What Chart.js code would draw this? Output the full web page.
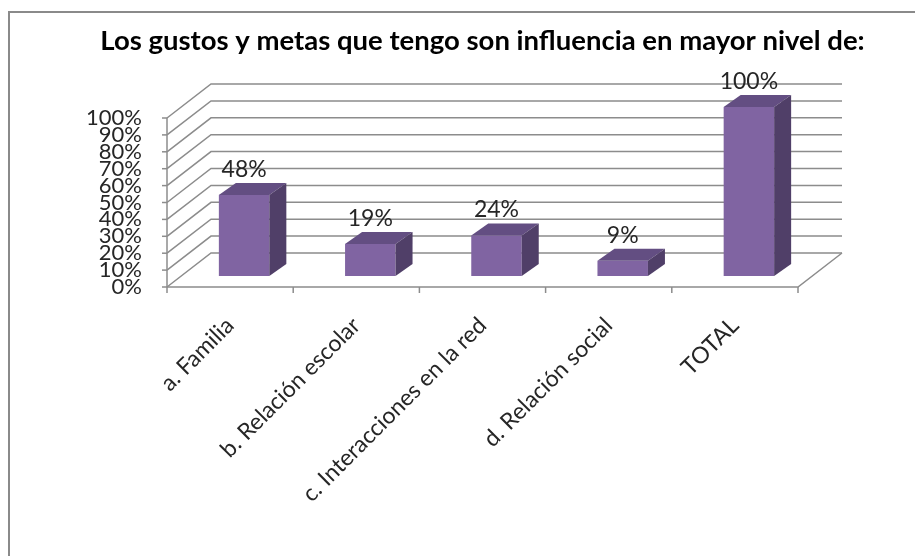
<!DOCTYPE html>
<html>
<head>
<meta charset="utf-8">
<script src="https://cdn.jsdelivr.net/npm/chart.js@4"></script>
<style>
  html, body { margin: 0; padding: 0; background: #fff; }
  #wrap { width: 915px; height: 556px; }
</style>
</head>
<body>
<div id="wrap"><canvas id="chart" width="915" height="556"></canvas></div>
<script>
// data
const CATEGORIES = ["a. Familia", "b. Relación escolar", "c. Interacciones en la red", "d. Relación social", "TOTAL"];
const VALUES = [48, 19, 24, 9, 100];
const TITLE = "Los gustos y metas que tengo son influencia en mayor nivel de:";

// 3d look
const WALL = { dx: 44, dy: -34 };      // depth of the back wall
const BAR_POS = { dx: 14, dy: -11 };   // bars sit inside the depth
const BAR_DEPTH = { dx: 17, dy: -12 };
const GRID = "#8c8c8c";
const FRONT = "#8064a2", TOP = "#634e82", SIDE = "#503f68";

const fakeDepth = {
  id: "fakeDepth",
  beforeDraw(chart) {
    const ctx = chart.ctx;
    ctx.save();
    ctx.fillStyle = "#fff";
    ctx.fillRect(0, 0, chart.width, chart.height);
    ctx.strokeStyle = "#8a8a8a";
    ctx.lineWidth = 2;
    ctx.strokeRect(9, 12, 1000, 1000);
    ctx.restore();
  },
  beforeDatasetsDraw(chart) {
    const { ctx, chartArea: a, scales: { y } } = chart;
    ctx.save();
    ctx.strokeStyle = GRID;
    ctx.lineWidth = 1.5;
    // back wall + side wall lines
    y.ticks.forEach(t => {
      const py = y.getPixelForValue(t.value);
      ctx.beginPath();
      ctx.moveTo(a.left, py);
      ctx.lineTo(a.left + WALL.dx, py + WALL.dy);
      ctx.lineTo(a.right + WALL.dx, py + WALL.dy);
      ctx.stroke();
      ctx.beginPath();
      ctx.moveTo(a.left - 5, py);
      ctx.lineTo(a.left, py);
      ctx.stroke();
    });
    // front axis
    ctx.beginPath();
    ctx.moveTo(a.left, a.top);
    ctx.lineTo(a.left, a.bottom);
    ctx.stroke();
    // floor
    ctx.beginPath();
    ctx.moveTo(a.left, a.bottom);
    ctx.lineTo(a.right, a.bottom);
    ctx.lineTo(a.right + WALL.dx, a.bottom + WALL.dy);
    ctx.stroke();
    // category ticks
    const step = (a.right - a.left) / CATEGORIES.length;
    for (let i = 0; i <= CATEGORIES.length; i++) {
      const px = a.left + i * step;
      ctx.beginPath();
      ctx.moveTo(px, a.bottom);
      ctx.lineTo(px, a.bottom + 6);
      ctx.stroke();
    }
    ctx.restore();
  },
  afterDatasetsDraw(chart) {
    const ctx = chart.ctx;
    const meta = chart.getDatasetMeta(0);
    ctx.save();
    meta.data.forEach((bar, i) => {
      const w = bar.width;
      const l = bar.x - w / 2 + BAR_POS.dx;
      const r = l + w;
      const t = bar.y + BAR_POS.dy;
      const b = bar.base + BAR_POS.dy;
      ctx.fillStyle = FRONT;
      ctx.fillRect(l, t, w, b - t);
      ctx.fillStyle = TOP;
      ctx.beginPath();
      ctx.moveTo(l, t);
      ctx.lineTo(r, t);
      ctx.lineTo(r + BAR_DEPTH.dx, t + BAR_DEPTH.dy);
      ctx.lineTo(l + BAR_DEPTH.dx, t + BAR_DEPTH.dy);
      ctx.closePath();
      ctx.fill();
      ctx.fillStyle = SIDE;
      ctx.beginPath();
      ctx.moveTo(r, t);
      ctx.lineTo(r + BAR_DEPTH.dx, t + BAR_DEPTH.dy);
      ctx.lineTo(r + BAR_DEPTH.dx, b + BAR_DEPTH.dy);
      ctx.lineTo(r, b);
      ctx.closePath();
      ctx.fill();
      // value label
      ctx.fillStyle = "#262626";
      ctx.font = "23px Lato";
      ctx.textAlign = "center";
      ctx.textBaseline = "alphabetic";
      ctx.fillText(VALUES[i] + "%", l + w / 2, t + BAR_DEPTH.dy - 6);
    });
    ctx.restore();
  }
};

new Chart(document.getElementById("chart"), {
  type: "bar",
  data: {
    labels: CATEGORIES,
    datasets: [{
      data: VALUES,
      backgroundColor: "rgba(0,0,0,0)",
      barPercentage: 0.4,
      categoryPercentage: 1
    }]
  },
  options: {
    responsive: false,
    animation: false,
    devicePixelRatio: 1,
    layout: { padding: { left: 50, right: 0, top: 0, bottom: 0 } },
    plugins: {
      legend: { display: false },
      tooltip: { enabled: false },
      title: {
        display: true,
        text: TITLE,
        color: "#000",
        font: { family: "Lato", size: 27.5, weight: "bold", lineHeight: 1.2 },
        padding: { top: 25, bottom: 60 }
      }
    },
    scales: {
      y: {
        min: 0,
        max: 100,
        ticks: {
          stepSize: 10,
          autoSkip: false,
          callback: v => v + "%",
          color: "#262626",
          font: { family: "Lato", size: 22 },
          padding: 25
        },
        grid: { display: false, drawTicks: false },
        border: { display: false },
        afterFit(scale) { scale.width = 117; }
      },
      spacer: {
        type: "linear",
        position: "right",
        ticks: { display: false },
        grid: { display: false, drawTicks: false },
        border: { display: false },
        afterFit(scale) { scale.width = 117; }
      },
      x: {
        ticks: {
          minRotation: 45,
          maxRotation: 45,
          autoSkip: false,
          color: "#262626",
          font: { family: "Lato", size: 23 },
          padding: 25
        },
        grid: { display: false, drawTicks: false },
        border: { display: false },
        afterFit(scale) { scale.height = 269; }
      }
    }
  },
  plugins: [fakeDepth]
});
</script>
</body>
</html>
